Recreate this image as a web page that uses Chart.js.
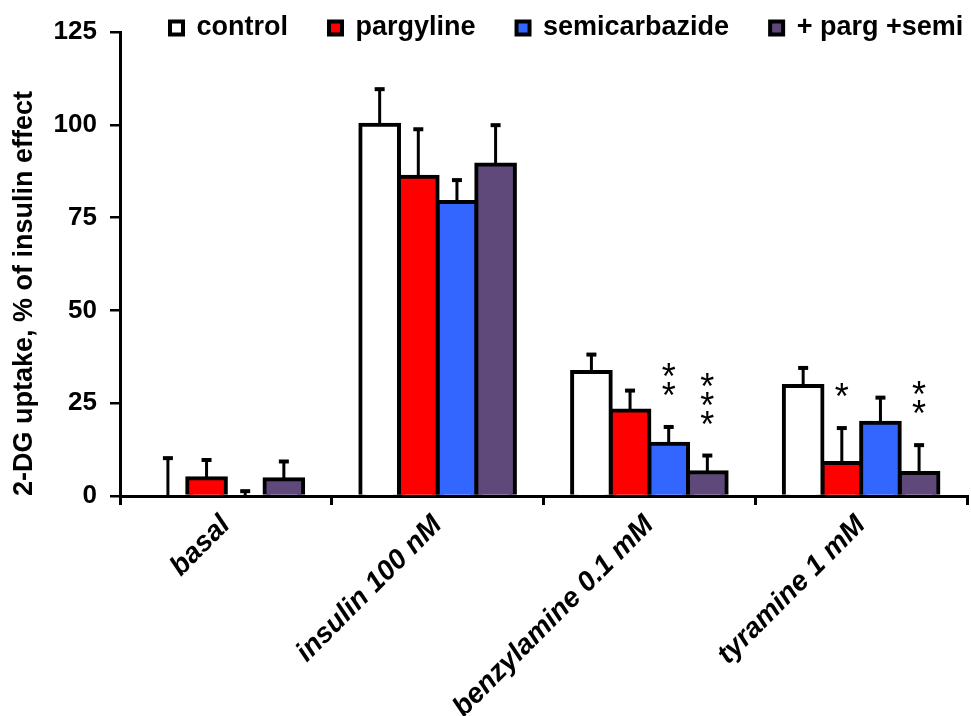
<!DOCTYPE html>
<html><head><meta charset="utf-8">
<script src="https://cdn.jsdelivr.net/npm/chart.js@4"></script>
<style>html,body{margin:0;padding:0;background:#fff}#wrap{width:971px;height:716px}</style>
</head><body><div id="wrap"><canvas id="c" width="971" height="716"></canvas></div>
<script>
const categories = ['basal', 'insulin 100 nM', 'benzylamine 0.1 mM', 'tyramine 1 mM'];
const seriesNames = ['control', 'pargyline', 'semicarbazide', '+ parg +semi'];
const control = [0, 100, 33.4, 29.6];
const controlErr = [10.2, 9.6, 4.7, 4.9];
const pargyline = [4.8, 86.0, 23.0, 8.9];
const pargylineErr = [4.9, 12.8, 5.4, 9.4];
const semicarbazide = [0, 79.2, 14.1, 19.7];
const semicarbazideErr = [1.3, 5.9, 4.5, 6.8];
const pargSemi = [4.5, 89.3, 6.4, 6.2];
const pargSemiErr = [4.8, 10.6, 4.5, 7.5];
const controlSig = ['', '', '', ''];
const pargylineSig = ['', '', '', '*'];
const semicarbazideSig = ['', '', '**', ''];
const pargSemiSig = ['', '', '***', '**'];
const yTicks = [0, 25, 50, 75, 100, 125];

const FONT = '"Liberation Sans", Arial, Helvetica, sans-serif';

function mk(label, data, err, sig, color) {
  return { label, data, err, sig, backgroundColor: color, borderColor: '#000',
    borderWidth: 4, inflateAmount: 2, borderSkipped: 'start' };
}

const errorBarPlugin = {
  id: 'errorBars',
  afterDatasetsDraw(chart) {
    const ctx = chart.ctx, ys = chart.scales.y;
    chart.data.datasets.forEach((ds, i) => {
      const meta = chart.getDatasetMeta(i);
      meta.data.forEach((bar, j) => {
        const v = ds.data[j], e = ds.err[j];
        const x = bar.x;
        const y0 = ys.getPixelForValue(v);
        const y1 = ys.getPixelForValue(v + e);
        ctx.save();
        ctx.strokeStyle = '#000';
        ctx.lineWidth = 3;
        ctx.beginPath();
        ctx.moveTo(x, y0); ctx.lineTo(x, y1);
        ctx.stroke();
        ctx.lineWidth = 4;
        ctx.beginPath();
        ctx.moveTo(x - 5, y1); ctx.lineTo(x + 5, y1);
        ctx.stroke();
        const s = ds.sig[j] || '';
        ctx.fillStyle = '#000';
        ctx.font = '36px ' + FONT;
        ctx.textAlign = 'center';
        ctx.textBaseline = 'alphabetic';
        for (let k = 0; k < s.length; k++) {
          const cy = y1 - 40 - k * 19;
          ctx.fillText('*', x, cy + 21);
        }
        ctx.restore();
      });
    });
  }
};

const legendPlugin = {
  id: 'legendPlace',
  beforeLayout(chart) {
    const lg = chart.legend;
    if (lg && !lg._wrapped) {
      const f = lg.fit;
      lg.fit = function () { f.call(this); this.height = 32; };
      lg._wrapped = true;
    }
  },
  afterLayout(chart) {
    const lg = chart.legend;
    const p = lg.options.labels.padding;
    lg.left = 170 - p;
    lg.right = 3000;
    lg.top = 28 - 13.5 - p;
    lg.bottom = 80;
    lg.width = lg.right - lg.left;
    lg.height = lg.bottom - lg.top;
  }
};

new Chart(document.getElementById('c'), {
  type: 'bar',
  data: {
    labels: categories,
    datasets: [
      mk(seriesNames[0], control, controlErr, controlSig, '#ffffff'),
      mk(seriesNames[1], pargyline, pargylineErr, pargylineSig, '#ff0000'),
      mk(seriesNames[2], semicarbazide, semicarbazideErr, semicarbazideSig, '#3366ff'),
      mk(seriesNames[3], pargSemi, pargSemiErr, pargSemiSig, '#5f497a')
    ]
  },
  options: {
    responsive: false,
    animation: false,
    layout: { padding: { left: 0, right: 4, top: 0, bottom: 0 } },
    datasets: { bar: { categoryPercentage: 0.73, barPercentage: 1.0 } },
    plugins: {
      tooltip: { enabled: false },
      legend: {
        display: true, position: 'top', align: 'start',
        labels: { color: '#000', boxWidth: 13, boxHeight: 13, padding: 41,
          font: { family: FONT, size: 27, weight: 'bold' } }
      }
    },
    scales: {
      x: {
        offset: true,
        grid: { drawOnChartArea: false, drawTicks: true, tickLength: 9, color: '#000', lineWidth: 3, offset: true },
        border: { color: '#000', width: 3 },
        ticks: { autoSkip: false, maxRotation: 45, minRotation: 45, color: '#000', padding: 4,
          font: { family: FONT, size: 28, weight: 'bold', style: 'italic' } },
        afterFit(scale) { scale.height = 220; }
      },
      y: {
        min: 0, max: 125,
        afterBuildTicks(scale) { scale.ticks = yTicks.map(v => ({ value: v })); },
        grid: { drawOnChartArea: false, drawTicks: true, tickLength: 10, color: '#000', lineWidth: 2.5 },
        border: { color: '#000', width: 3 },
        ticks: { color: '#000', padding: 13, font: { family: FONT, size: 26, weight: 'bold' } },
        title: { display: true, text: '2-DG uptake, % of insulin effect', color: '#000', align: 'start',
          padding: { top: 8, bottom: 0 }, font: { family: FONT, size: 27, weight: 'bold' } },
        afterFit(scale) { scale.width = 120; }
      }
    }
  },
  plugins: [errorBarPlugin, legendPlugin]
});
</script>
</body></html>
